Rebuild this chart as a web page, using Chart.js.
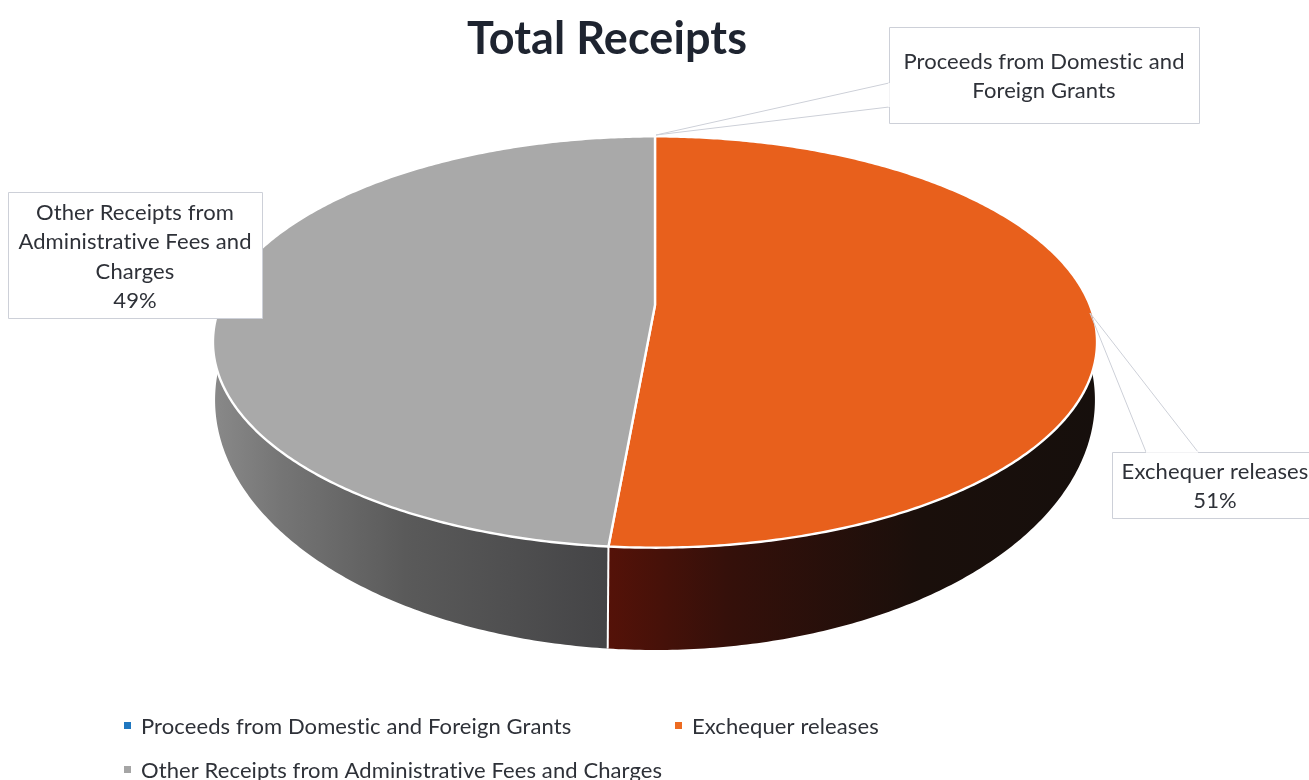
<!DOCTYPE html>
<html>
<head>
<meta charset="utf-8">
<title>Total Receipts</title>
<script src="https://cdn.jsdelivr.net/npm/chart.js@4"></script>
<style>
    html, body { margin: 0; padding: 0; background: #fff; }
    canvas { display: block; }
</style>
</head>
<body>
<canvas id="receiptsPie" width="1309" height="780"></canvas>
<script>
const chartTitle = 'Total Receipts';
const categories = [
    'Proceeds from Domestic and Foreign Grants',
    'Exchequer releases',
    'Other Receipts from Administrative Fees and Charges'
];
const shares = [0, 51.4, 48.6];
const sliceColors = ['#1F77C0', '#E8601C', '#A9A9A9'];
const legendColors = ['#1F77C0', '#ED6B21', '#A5A5A5'];
// wrapped callout text, one entry per category
const calloutLines = [
    ['Proceeds from Domestic and', 'Foreign Grants'],
    ['Exchequer releases'],
    ['Other Receipts from', 'Administrative Fees and', 'Charges']
];

const FONT = 'Lato, "Open Sans", sans-serif';
const TEXT = '#2e3138';

// tilted disc: near side of the circle comes out bigger than the far side
const topRim = { k: 0.18, sx: 2.185, sy: 1, dy: 0 };
const bottomRim = { k: 0.2, sx: 2.166, sy: 1.206, dy: 45 };

function project(arc, rim, angle) {
    const u = Math.cos(angle), v = Math.sin(angle);
    const d = 1 - rim.k * v;
    return [
        arc.x + rim.sx * arc.outerRadius * u / d,
        arc.y + rim.dy + rim.sy * arc.outerRadius * v / d
    ];
}

function tracePoints(ctx, arc, rim, from, to) {
    const steps = Math.max(2, Math.ceil(Math.abs(to - from) / 0.01));
    for (let i = 0; i <= steps; i++) {
        const p = project(arc, rim, from + (to - from) * i / steps);
        ctx.lineTo(p[0], p[1]);
    }
}

function sideGradient(ctx, index) {
    const g = ctx.createLinearGradient(210, 0, 1100, 0);
    if (index === 1) {
        g.addColorStop(0.44, '#561208');
        g.addColorStop(0.58, '#35100a');
        g.addColorStop(0.8, '#1a0f0b');
        g.addColorStop(1, '#160f0c');
    } else {
        g.addColorStop(0, '#8a8a8a');
        g.addColorStop(0.08, '#757575');
        g.addColorStop(0.22, '#5a5a5a');
        g.addColorStop(0.45, '#444446');
    }
    return g;
}

const tiltedPie = {
    id: 'tiltedPie',
    beforeDatasetsDraw(chart) {
        const ctx = chart.ctx;
        const arcs = chart.getDatasetMeta(0).data;
        ctx.save();
        ctx.lineJoin = 'round';

        // wall of the disc
        arcs.forEach((arc, i) => {
            if (arc.endAngle - arc.startAngle < 0.001) return;
            ctx.beginPath();
            tracePoints(ctx, arc, topRim, arc.startAngle, arc.endAngle);
            tracePoints(ctx, arc, bottomRim, arc.endAngle, arc.startAngle);
            ctx.closePath();
            ctx.fillStyle = sideGradient(ctx, i);
            ctx.fill();
        });

        // seam on the front of the wall
        arcs.forEach((arc) => {
            const a = arc.endAngle;
            if (Math.sin(a) <= 0 || arc.endAngle - arc.startAngle < 0.001) return;
            const p = project(arc, topRim, a), q = project(arc, bottomRim, a);
            ctx.beginPath();
            ctx.moveTo(p[0], p[1]);
            ctx.lineTo(q[0], q[1]);
            ctx.strokeStyle = '#fff';
            ctx.lineWidth = 2;
            ctx.stroke();
        });

        // top face
        arcs.forEach((arc) => {
            if (arc.endAngle - arc.startAngle < 0.001) return;
            ctx.beginPath();
            ctx.moveTo(arc.x, arc.y);
            tracePoints(ctx, arc, topRim, arc.startAngle, arc.endAngle);
            ctx.closePath();
            ctx.fillStyle = arc.options.backgroundColor;
            ctx.fill();
            ctx.strokeStyle = '#fff';
            ctx.lineWidth = 2.4;
            ctx.stroke();
        });
        ctx.restore();
        return false;
    },
    afterDraw(chart) {
        const ctx = chart.ctx;
        ctx.save();
        ctx.textBaseline = 'middle';
        // a small spacing also keeps Lato's ligatures out
        ctx.letterSpacing = '0.1px';

        ctx.fillStyle = '#1e2430';
        ctx.textAlign = 'center';
        ctx.font = 'bold 45px ' + FONT;
        ctx.fillText(chartTitle, 607, 39);

        // callouts: box, then wedge pointing at the slice
        const boxes = [
            { x: 889, y: 27, w: 310, h: 96, cx: 1044, line: 62, a: [889, 83], b: [889, 107], tip: [656, 135] },
            { x: 1112, y: 452, w: 200, h: 66, cx: 1215, line: 472, a: [1146, 452], b: [1198, 452], tip: [1090, 313] },
            { x: 8, y: 192, w: 254, h: 126, cx: 135, line: 213 }
        ];
        boxes.forEach((box, i) => {
            ctx.fillStyle = '#fff';
            ctx.strokeStyle = '#cdd0d8';
            ctx.lineWidth = 1;
            ctx.beginPath();
            ctx.rect(box.x + 0.5, box.y + 0.5, box.w, box.h);
            ctx.fill();
            ctx.stroke();
            if (box.tip) {
                ctx.beginPath();
                ctx.moveTo(box.a[0], box.a[1]);
                ctx.lineTo(box.tip[0], box.tip[1]);
                ctx.lineTo(box.b[0], box.b[1]);
                ctx.stroke();
                // open the box where the wedge joins it
                ctx.beginPath();
                ctx.moveTo(box.a[0], box.a[1]);
                ctx.lineTo(box.b[0], box.b[1]);
                ctx.strokeStyle = '#fff';
                ctx.lineWidth = 1.5;
                ctx.stroke();
            }
            const lines = calloutLines[i].slice();
            if (shares[i] > 0) lines.push(Math.round(shares[i]) + '%');
            ctx.fillStyle = TEXT;
            ctx.font = '22px ' + FONT;
            lines.forEach((t, n) => ctx.fillText(t, box.cx, box.line + n * 29.3));
        });

        // legend, two rows under the pie
        const labels = Chart.overrides.pie.plugins.legend.labels.generateLabels(chart);
        const slots = [[124, 726], [675, 726], [124, 770]];
        ctx.textAlign = 'left';
        ctx.font = '22px ' + FONT;
        labels.forEach((item, i) => {
            ctx.fillStyle = legendColors[i];
            ctx.fillRect(slots[i][0], slots[i][1] - 4, 7, 7);
            ctx.fillStyle = TEXT;
            ctx.fillText(item.text, slots[i][0] + 17, slots[i][1] + 1);
        });
        ctx.restore();
    }
};

const pie = document.getElementById('receiptsPie').getContext('2d');
const receiptsPie = new Chart(pie, {
    type: 'pie',
    data: {
        labels: categories,
        datasets: [{
            data: shares,
            backgroundColor: sliceColors,
            borderWidth: 0
        }]
    },
    options: {
        responsive: false,
        animation: false,
        layout: { padding: { top: 106, bottom: 276, left: 1, right: 0 } },
        plugins: {
            legend: { display: false },
            title: { display: false },
            tooltip: { enabled: false }
        }
    },
    plugins: [tiltedPie]
});
</script>
</body>
</html>
